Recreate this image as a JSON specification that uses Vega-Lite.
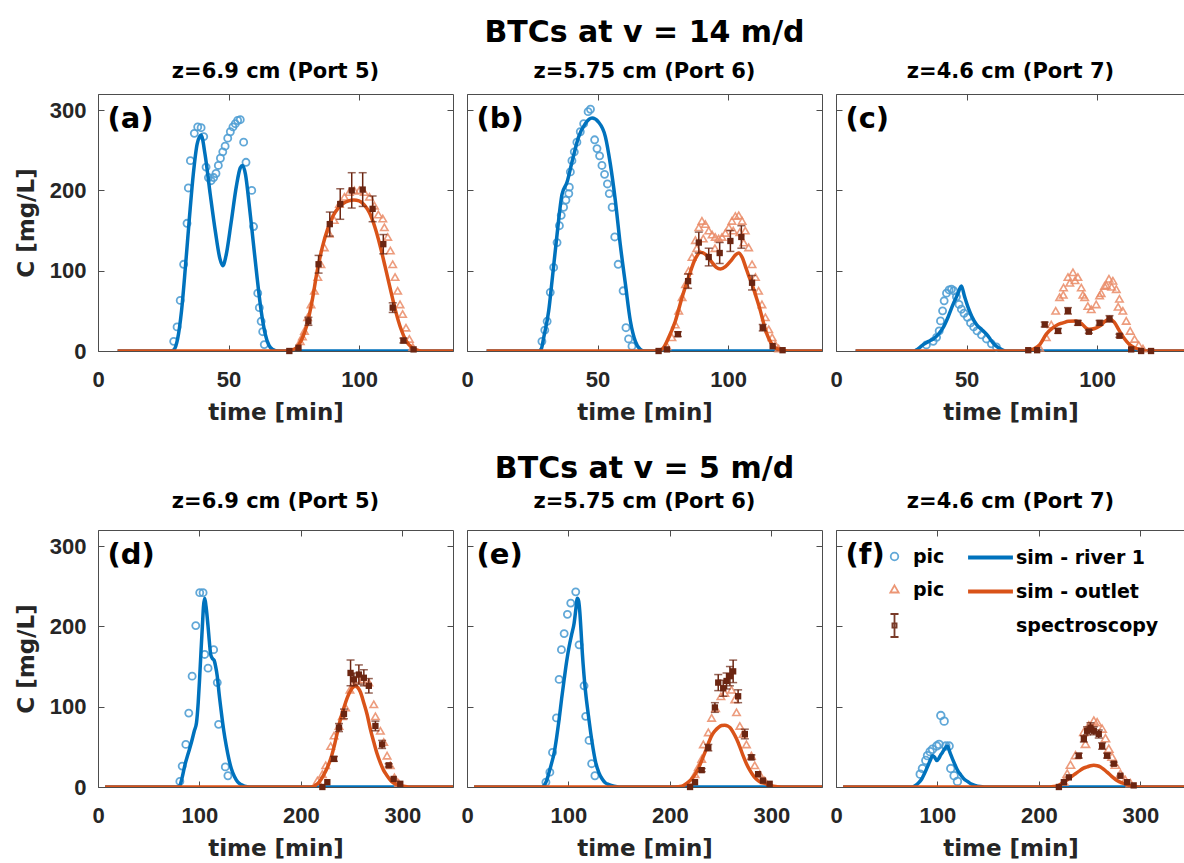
{
"$schema":"https://vega.github.io/schema/vega-lite/v6.json",
"padding":{"left":15,"top":17,"right":0,"bottom":0},
"background":"white",
"datasets":{
"d":[
{"p":"a","k":"sim_r","t":7.5,"C":0},{"p":"a","k":"sim_r","t":28,"C":0},{"p":"a","k":"sim_r","t":29.2,"C":2},{"p":"a","k":"sim_r","t":30.5,"C":15},{"p":"a","k":"sim_r","t":32,"C":50},{"p":"a","k":"sim_r","t":33.5,"C":105},{"p":"a","k":"sim_r","t":35,"C":165},{"p":"a","k":"sim_r","t":36.5,"C":220},{"p":"a","k":"sim_r","t":38,"C":258},{"p":"a","k":"sim_r","t":39.5,"C":269},{"p":"a","k":"sim_r","t":41,"C":245},{"p":"a","k":"sim_r","t":43,"C":195},{"p":"a","k":"sim_r","t":45,"C":148},{"p":"a","k":"sim_r","t":46.7,"C":115},{"p":"a","k":"sim_r","t":47.8,"C":106},{"p":"a","k":"sim_r","t":49,"C":118},{"p":"a","k":"sim_r","t":51,"C":160},{"p":"a","k":"sim_r","t":53,"C":205},{"p":"a","k":"sim_r","t":54.5,"C":228},{"p":"a","k":"sim_r","t":55.4,"C":231},{"p":"a","k":"sim_r","t":56.5,"C":220},{"p":"a","k":"sim_r","t":58,"C":180},{"p":"a","k":"sim_r","t":59.5,"C":135},{"p":"a","k":"sim_r","t":61,"C":90},{"p":"a","k":"sim_r","t":62.5,"C":50},{"p":"a","k":"sim_r","t":64,"C":22},{"p":"a","k":"sim_r","t":65.5,"C":7},{"p":"a","k":"sim_r","t":67,"C":2},{"p":"a","k":"sim_r","t":69,"C":0},{"p":"a","k":"sim_r","t":136,"C":0},
{"p":"a","k":"pic_c","t":29.0,"C":12},{"p":"a","k":"pic_c","t":30.3,"C":30},{"p":"a","k":"pic_c","t":31.5,"C":63},{"p":"a","k":"pic_c","t":32.8,"C":108},{"p":"a","k":"pic_c","t":34.1,"C":159},{"p":"a","k":"pic_c","t":34.6,"C":203},{"p":"a","k":"pic_c","t":35.4,"C":237},{"p":"a","k":"pic_c","t":36.9,"C":271},{"p":"a","k":"pic_c","t":38.2,"C":279},{"p":"a","k":"pic_c","t":39.5,"C":278},{"p":"a","k":"pic_c","t":40.5,"C":267},{"p":"a","k":"pic_c","t":41.4,"C":229},{"p":"a","k":"pic_c","t":42.3,"C":216},{"p":"a","k":"pic_c","t":43.3,"C":212},{"p":"a","k":"pic_c","t":44.3,"C":216},{"p":"a","k":"pic_c","t":45.2,"C":221},{"p":"a","k":"pic_c","t":46.1,"C":231},{"p":"a","k":"pic_c","t":46.9,"C":240},{"p":"a","k":"pic_c","t":47.8,"C":248},{"p":"a","k":"pic_c","t":48.7,"C":255},{"p":"a","k":"pic_c","t":49.7,"C":265},{"p":"a","k":"pic_c","t":50.7,"C":273},{"p":"a","k":"pic_c","t":51.7,"C":279},{"p":"a","k":"pic_c","t":52.6,"C":283},{"p":"a","k":"pic_c","t":53.5,"C":287},{"p":"a","k":"pic_c","t":54.5,"C":288},{"p":"a","k":"pic_c","t":55.8,"C":260},{"p":"a","k":"pic_c","t":56.7,"C":235},{"p":"a","k":"pic_c","t":58.9,"C":200},{"p":"a","k":"pic_c","t":59.6,"C":155},{"p":"a","k":"pic_c","t":61.2,"C":72},{"p":"a","k":"pic_c","t":61.8,"C":54},{"p":"a","k":"pic_c","t":62.5,"C":37},{"p":"a","k":"pic_c","t":63.1,"C":24},{"p":"a","k":"pic_c","t":63.7,"C":8},
{"p":"a","k":"sim_o","t":7.5,"C":0},{"p":"a","k":"sim_o","t":72,"C":0},{"p":"a","k":"sim_o","t":74,"C":1},{"p":"a","k":"sim_o","t":76,"C":4},{"p":"a","k":"sim_o","t":78,"C":14},{"p":"a","k":"sim_o","t":80,"C":32},{"p":"a","k":"sim_o","t":82,"C":62},{"p":"a","k":"sim_o","t":84,"C":100},{"p":"a","k":"sim_o","t":86,"C":130},{"p":"a","k":"sim_o","t":88,"C":152},{"p":"a","k":"sim_o","t":90,"C":168},{"p":"a","k":"sim_o","t":92,"C":178},{"p":"a","k":"sim_o","t":94,"C":184},{"p":"a","k":"sim_o","t":96,"C":187},{"p":"a","k":"sim_o","t":98,"C":188},{"p":"a","k":"sim_o","t":100,"C":187},{"p":"a","k":"sim_o","t":102,"C":182},{"p":"a","k":"sim_o","t":104,"C":172},{"p":"a","k":"sim_o","t":106,"C":155},{"p":"a","k":"sim_o","t":108,"C":132},{"p":"a","k":"sim_o","t":110,"C":105},{"p":"a","k":"sim_o","t":112,"C":77},{"p":"a","k":"sim_o","t":114,"C":50},{"p":"a","k":"sim_o","t":116,"C":28},{"p":"a","k":"sim_o","t":118,"C":13},{"p":"a","k":"sim_o","t":120,"C":5},{"p":"a","k":"sim_o","t":122,"C":1.5},{"p":"a","k":"sim_o","t":124,"C":0},{"p":"a","k":"sim_o","t":136,"C":0},
{"p":"a","k":"pic_t","t":77.5,"C":12},{"p":"a","k":"pic_t","t":78.3,"C":18},{"p":"a","k":"pic_t","t":79.1,"C":25},{"p":"a","k":"pic_t","t":80.3,"C":42},{"p":"a","k":"pic_t","t":81.6,"C":58},{"p":"a","k":"pic_t","t":82.9,"C":75},{"p":"a","k":"pic_t","t":84.2,"C":92},{"p":"a","k":"pic_t","t":85.4,"C":108},{"p":"a","k":"pic_t","t":86.7,"C":129},{"p":"a","k":"pic_t","t":88.6,"C":146},{"p":"a","k":"pic_t","t":90.5,"C":163},{"p":"a","k":"pic_t","t":92.5,"C":183},{"p":"a","k":"pic_t","t":94.4,"C":192},{"p":"a","k":"pic_t","t":96.3,"C":198},{"p":"a","k":"pic_t","t":98.2,"C":200},{"p":"a","k":"pic_t","t":100.1,"C":200},{"p":"a","k":"pic_t","t":102,"C":198},{"p":"a","k":"pic_t","t":104,"C":192},{"p":"a","k":"pic_t","t":105.9,"C":181},{"p":"a","k":"pic_t","t":107.4,"C":170},{"p":"a","k":"pic_t","t":109.1,"C":165},{"p":"a","k":"pic_t","t":109.7,"C":154},{"p":"a","k":"pic_t","t":111,"C":142},{"p":"a","k":"pic_t","t":112,"C":125},{"p":"a","k":"pic_t","t":112.9,"C":108},{"p":"a","k":"pic_t","t":113.8,"C":92},{"p":"a","k":"pic_t","t":114.8,"C":75},{"p":"a","k":"pic_t","t":115.7,"C":58},{"p":"a","k":"pic_t","t":116.7,"C":46},{"p":"a","k":"pic_t","t":118,"C":29},{"p":"a","k":"pic_t","t":119.3,"C":15},{"p":"a","k":"pic_t","t":120.6,"C":5},
{"p":"a","k":"spec","t":73.3,"C":0,"e":0},{"p":"a","k":"spec","t":76.8,"C":4,"e":0},{"p":"a","k":"spec","t":80.6,"C":37,"e":5},{"p":"a","k":"spec","t":84.5,"C":108,"e":11},{"p":"a","k":"spec","t":88.8,"C":158,"e":15},{"p":"a","k":"spec","t":92.8,"C":183,"e":19},{"p":"a","k":"spec","t":97.2,"C":200,"e":22},{"p":"a","k":"spec","t":101.4,"C":201,"e":21},{"p":"a","k":"spec","t":105.2,"C":177,"e":16},{"p":"a","k":"spec","t":109.3,"C":133,"e":12},{"p":"a","k":"spec","t":112.9,"C":54,"e":6},{"p":"a","k":"spec","t":117,"C":13,"e":3},{"p":"a","k":"spec","t":120.9,"C":2,"e":0},

{"p":"b","k":"sim_r","t":7.5,"C":0},{"p":"b","k":"sim_r","t":27.5,"C":0},{"p":"b","k":"sim_r","t":28.5,"C":3},{"p":"b","k":"sim_r","t":29.4,"C":17},{"p":"b","k":"sim_r","t":31.3,"C":50},{"p":"b","k":"sim_r","t":32.6,"C":88},{"p":"b","k":"sim_r","t":34.5,"C":145},{"p":"b","k":"sim_r","t":36.4,"C":195},{"p":"b","k":"sim_r","t":38.3,"C":210},{"p":"b","k":"sim_r","t":40.2,"C":235},{"p":"b","k":"sim_r","t":42.8,"C":267},{"p":"b","k":"sim_r","t":45.3,"C":283},{"p":"b","k":"sim_r","t":47.9,"C":290},{"p":"b","k":"sim_r","t":50.4,"C":285},{"p":"b","k":"sim_r","t":53,"C":267},{"p":"b","k":"sim_r","t":54.9,"C":233},{"p":"b","k":"sim_r","t":56.8,"C":188},{"p":"b","k":"sim_r","t":58.7,"C":133},{"p":"b","k":"sim_r","t":60.7,"C":83},{"p":"b","k":"sim_r","t":62.6,"C":37},{"p":"b","k":"sim_r","t":64.5,"C":12},{"p":"b","k":"sim_r","t":66.4,"C":2},{"p":"b","k":"sim_r","t":68,"C":0},{"p":"b","k":"sim_r","t":136,"C":0},
{"p":"b","k":"pic_c","t":28.7,"C":12},{"p":"b","k":"pic_c","t":29.8,"C":26},{"p":"b","k":"pic_c","t":30.7,"C":37},{"p":"b","k":"pic_c","t":31.9,"C":73},{"p":"b","k":"pic_c","t":33.2,"C":104},{"p":"b","k":"pic_c","t":34.5,"C":135},{"p":"b","k":"pic_c","t":35.4,"C":156},{"p":"b","k":"pic_c","t":36.1,"C":169},{"p":"b","k":"pic_c","t":37.0,"C":179},{"p":"b","k":"pic_c","t":37.9,"C":188},{"p":"b","k":"pic_c","t":39.0,"C":196},{"p":"b","k":"pic_c","t":39.2,"C":204},{"p":"b","k":"pic_c","t":39.6,"C":223},{"p":"b","k":"pic_c","t":40.2,"C":237},{"p":"b","k":"pic_c","t":41.1,"C":248},{"p":"b","k":"pic_c","t":42.1,"C":260},{"p":"b","k":"pic_c","t":43.4,"C":273},{"p":"b","k":"pic_c","t":44.7,"C":283},{"p":"b","k":"pic_c","t":46.4,"C":298},{"p":"b","k":"pic_c","t":47.3,"C":301},{"p":"b","k":"pic_c","t":48.9,"C":263},{"p":"b","k":"pic_c","t":49.8,"C":252},{"p":"b","k":"pic_c","t":50.8,"C":243},{"p":"b","k":"pic_c","t":51.7,"C":231},{"p":"b","k":"pic_c","t":52.7,"C":220},{"p":"b","k":"pic_c","t":53.8,"C":208},{"p":"b","k":"pic_c","t":54.5,"C":196},{"p":"b","k":"pic_c","t":55.6,"C":179},{"p":"b","k":"pic_c","t":56.6,"C":142},{"p":"b","k":"pic_c","t":57.9,"C":108},{"p":"b","k":"pic_c","t":59.8,"C":75},{"p":"b","k":"pic_c","t":60.9,"C":29},{"p":"b","k":"pic_c","t":61.9,"C":15},{"p":"b","k":"pic_c","t":63.2,"C":6},
{"p":"b","k":"sim_o","t":7.5,"C":0},{"p":"b","k":"sim_o","t":72,"C":0},{"p":"b","k":"sim_o","t":73.4,"C":0.5},{"p":"b","k":"sim_o","t":75,"C":3},{"p":"b","k":"sim_o","t":77.3,"C":17},{"p":"b","k":"sim_o","t":79.8,"C":37},{"p":"b","k":"sim_o","t":82.4,"C":67},{"p":"b","k":"sim_o","t":84.9,"C":92},{"p":"b","k":"sim_o","t":87.5,"C":115},{"p":"b","k":"sim_o","t":89.5,"C":123},{"p":"b","k":"sim_o","t":91.5,"C":120},{"p":"b","k":"sim_o","t":93.5,"C":112},{"p":"b","k":"sim_o","t":95.5,"C":104},{"p":"b","k":"sim_o","t":97.1,"C":102},{"p":"b","k":"sim_o","t":99,"C":105},{"p":"b","k":"sim_o","t":101,"C":112},{"p":"b","k":"sim_o","t":103,"C":120},{"p":"b","k":"sim_o","t":104.1,"C":122},{"p":"b","k":"sim_o","t":105.5,"C":116},{"p":"b","k":"sim_o","t":106.6,"C":106},{"p":"b","k":"sim_o","t":108,"C":93},{"p":"b","k":"sim_o","t":109.2,"C":83},{"p":"b","k":"sim_o","t":110.8,"C":67},{"p":"b","k":"sim_o","t":112.4,"C":50},{"p":"b","k":"sim_o","t":113.6,"C":35},{"p":"b","k":"sim_o","t":114.9,"C":21},{"p":"b","k":"sim_o","t":116.5,"C":10},{"p":"b","k":"sim_o","t":118.1,"C":4},{"p":"b","k":"sim_o","t":120.7,"C":1},{"p":"b","k":"sim_o","t":123,"C":0},{"p":"b","k":"sim_o","t":136,"C":0},
{"p":"b","k":"pic_t","t":76.6,"C":6},{"p":"b","k":"pic_t","t":78.5,"C":17},{"p":"b","k":"pic_t","t":79.8,"C":33},{"p":"b","k":"pic_t","t":81.1,"C":50},{"p":"b","k":"pic_t","t":82.4,"C":67},{"p":"b","k":"pic_t","t":83.7,"C":83},{"p":"b","k":"pic_t","t":84.9,"C":100},{"p":"b","k":"pic_t","t":86.2,"C":117},{"p":"b","k":"pic_t","t":87.5,"C":138},{"p":"b","k":"pic_t","t":88.8,"C":154},{"p":"b","k":"pic_t","t":90,"C":162},{"p":"b","k":"pic_t","t":91.3,"C":158},{"p":"b","k":"pic_t","t":92.6,"C":150},{"p":"b","k":"pic_t","t":93.9,"C":145},{"p":"b","k":"pic_t","t":95.1,"C":142},{"p":"b","k":"pic_t","t":96.4,"C":140},{"p":"b","k":"pic_t","t":97.7,"C":142},{"p":"b","k":"pic_t","t":99,"C":147},{"p":"b","k":"pic_t","t":100.3,"C":154},{"p":"b","k":"pic_t","t":101.5,"C":162},{"p":"b","k":"pic_t","t":102.8,"C":168},{"p":"b","k":"pic_t","t":104.1,"C":169},{"p":"b","k":"pic_t","t":105.4,"C":162},{"p":"b","k":"pic_t","t":106.6,"C":150},{"p":"b","k":"pic_t","t":107.9,"C":129},{"p":"b","k":"pic_t","t":109.2,"C":108},{"p":"b","k":"pic_t","t":110.5,"C":92},{"p":"b","k":"pic_t","t":111.7,"C":75},{"p":"b","k":"pic_t","t":113,"C":58},{"p":"b","k":"pic_t","t":114.3,"C":42},{"p":"b","k":"pic_t","t":115.6,"C":27},{"p":"b","k":"pic_t","t":116.9,"C":17},{"p":"b","k":"pic_t","t":118.1,"C":8},{"p":"b","k":"pic_t","t":119.4,"C":3},{"p":"b","k":"pic_t","t":88,"C":128},{"p":"b","k":"pic_t","t":90.5,"C":140},{"p":"b","k":"pic_t","t":95,"C":128},{"p":"b","k":"pic_t","t":102,"C":150},{"p":"b","k":"pic_t","t":104.5,"C":148},{"p":"b","k":"pic_t","t":106,"C":135},
{"p":"b","k":"spec","t":73.4,"C":0,"e":0},{"p":"b","k":"spec","t":76.6,"C":2,"e":0},{"p":"b","k":"spec","t":80.8,"C":21,"e":3},{"p":"b","k":"spec","t":84.7,"C":87,"e":9},{"p":"b","k":"spec","t":88.8,"C":135,"e":13},{"p":"b","k":"spec","t":92.6,"C":117,"e":11},{"p":"b","k":"spec","t":96.8,"C":122,"e":13},{"p":"b","k":"spec","t":100.9,"C":137,"e":13},{"p":"b","k":"spec","t":105.1,"C":142,"e":14},{"p":"b","k":"spec","t":109.2,"C":85,"e":9},{"p":"b","k":"spec","t":113.3,"C":29,"e":4},{"p":"b","k":"spec","t":117.1,"C":6,"e":0},{"p":"b","k":"spec","t":120.9,"C":1,"e":0},

{"p":"c","k":"sim_r","t":7.5,"C":0},{"p":"c","k":"sim_r","t":30,"C":0},{"p":"c","k":"sim_r","t":31.5,"C":3},{"p":"c","k":"sim_r","t":33.4,"C":8},{"p":"c","k":"sim_r","t":35.5,"C":12},{"p":"c","k":"sim_r","t":37.2,"C":15},{"p":"c","k":"sim_r","t":39,"C":20},{"p":"c","k":"sim_r","t":41,"C":29},{"p":"c","k":"sim_r","t":43,"C":43},{"p":"c","k":"sim_r","t":44.8,"C":58},{"p":"c","k":"sim_r","t":46.5,"C":70},{"p":"c","k":"sim_r","t":48,"C":81},{"p":"c","k":"sim_r","t":49.2,"C":68},{"p":"c","k":"sim_r","t":50.6,"C":54},{"p":"c","k":"sim_r","t":52,"C":43},{"p":"c","k":"sim_r","t":53.8,"C":33},{"p":"c","k":"sim_r","t":55.7,"C":27},{"p":"c","k":"sim_r","t":57.6,"C":21},{"p":"c","k":"sim_r","t":59,"C":15},{"p":"c","k":"sim_r","t":60.1,"C":10},{"p":"c","k":"sim_r","t":61.7,"C":5},{"p":"c","k":"sim_r","t":63.3,"C":2},{"p":"c","k":"sim_r","t":65,"C":0},{"p":"c","k":"sim_r","t":133.6,"C":0},
{"p":"c","k":"pic_c","t":34.6,"C":7.5},{"p":"c","k":"pic_c","t":37.2,"C":12},{"p":"c","k":"pic_c","t":38.5,"C":17},{"p":"c","k":"pic_c","t":39.5,"C":25},{"p":"c","k":"pic_c","t":40,"C":37.5},{"p":"c","k":"pic_c","t":40.8,"C":50},{"p":"c","k":"pic_c","t":41.4,"C":62.5},{"p":"c","k":"pic_c","t":42.3,"C":72},{"p":"c","k":"pic_c","t":43.3,"C":76},{"p":"c","k":"pic_c","t":44.2,"C":77},{"p":"c","k":"pic_c","t":45.1,"C":75},{"p":"c","k":"pic_c","t":46.1,"C":67.5},{"p":"c","k":"pic_c","t":47.1,"C":58},{"p":"c","k":"pic_c","t":48,"C":52},{"p":"c","k":"pic_c","t":49,"C":47},{"p":"c","k":"pic_c","t":50.3,"C":42},{"p":"c","k":"pic_c","t":51.5,"C":35},{"p":"c","k":"pic_c","t":52.7,"C":30},{"p":"c","k":"pic_c","t":54,"C":25},{"p":"c","k":"pic_c","t":55.7,"C":20},{"p":"c","k":"pic_c","t":57.6,"C":15},{"p":"c","k":"pic_c","t":59.5,"C":9},{"p":"c","k":"pic_c","t":61.4,"C":5},
{"p":"c","k":"sim_o","t":7.5,"C":0},{"p":"c","k":"sim_o","t":73,"C":0},{"p":"c","k":"sim_o","t":74.1,"C":0.5},{"p":"c","k":"sim_o","t":76,"C":3},{"p":"c","k":"sim_o","t":78,"C":8},{"p":"c","k":"sim_o","t":80.5,"C":21},{"p":"c","k":"sim_o","t":83.1,"C":29},{"p":"c","k":"sim_o","t":85,"C":33},{"p":"c","k":"sim_o","t":86.9,"C":35},{"p":"c","k":"sim_o","t":89,"C":37},{"p":"c","k":"sim_o","t":92,"C":37.5},{"p":"c","k":"sim_o","t":94,"C":34},{"p":"c","k":"sim_o","t":96,"C":28},{"p":"c","k":"sim_o","t":97.1,"C":27},{"p":"c","k":"sim_o","t":99,"C":28},{"p":"c","k":"sim_o","t":100.9,"C":31},{"p":"c","k":"sim_o","t":103,"C":37},{"p":"c","k":"sim_o","t":104.7,"C":40},{"p":"c","k":"sim_o","t":106.5,"C":36},{"p":"c","k":"sim_o","t":108.5,"C":25},{"p":"c","k":"sim_o","t":110.5,"C":15},{"p":"c","k":"sim_o","t":112.4,"C":8},{"p":"c","k":"sim_o","t":114.3,"C":4},{"p":"c","k":"sim_o","t":116.2,"C":2},{"p":"c","k":"sim_o","t":118,"C":0},{"p":"c","k":"sim_o","t":133.6,"C":0},
{"p":"c","k":"pic_t","t":78,"C":4},{"p":"c","k":"pic_t","t":80.5,"C":17},{"p":"c","k":"pic_t","t":82.4,"C":33},{"p":"c","k":"pic_t","t":84.1,"C":50},{"p":"c","k":"pic_t","t":85.6,"C":67},{"p":"c","k":"pic_t","t":87.1,"C":79},{"p":"c","k":"pic_t","t":88.8,"C":92},{"p":"c","k":"pic_t","t":90.7,"C":98},{"p":"c","k":"pic_t","t":92.6,"C":92},{"p":"c","k":"pic_t","t":93.9,"C":79},{"p":"c","k":"pic_t","t":95.2,"C":67},{"p":"c","k":"pic_t","t":96.4,"C":56},{"p":"c","k":"pic_t","t":97.7,"C":52},{"p":"c","k":"pic_t","t":99.6,"C":58},{"p":"c","k":"pic_t","t":100.9,"C":69},{"p":"c","k":"pic_t","t":102.8,"C":81},{"p":"c","k":"pic_t","t":104.5,"C":90},{"p":"c","k":"pic_t","t":106,"C":87.5},{"p":"c","k":"pic_t","t":107.3,"C":77},{"p":"c","k":"pic_t","t":108.5,"C":65},{"p":"c","k":"pic_t","t":109.8,"C":50},{"p":"c","k":"pic_t","t":111.1,"C":37.5},{"p":"c","k":"pic_t","t":112.6,"C":25},{"p":"c","k":"pic_t","t":114.3,"C":15},{"p":"c","k":"pic_t","t":115.9,"C":7.5},{"p":"c","k":"pic_t","t":117.5,"C":3},{"p":"c","k":"pic_t","t":89.5,"C":85},{"p":"c","k":"pic_t","t":91.5,"C":88},{"p":"c","k":"pic_t","t":94.5,"C":70},{"p":"c","k":"pic_t","t":101.5,"C":72},{"p":"c","k":"pic_t","t":103.5,"C":82},{"p":"c","k":"pic_t","t":105.5,"C":80},{"p":"c","k":"pic_t","t":87,"C":70},{"p":"c","k":"pic_t","t":108,"C":55},
{"p":"c","k":"spec","t":73.6,"C":1,"e":0},{"p":"c","k":"spec","t":77,"C":1,"e":0},{"p":"c","k":"spec","t":79.9,"C":33,"e":3},{"p":"c","k":"spec","t":85,"C":25,"e":3},{"p":"c","k":"spec","t":88.8,"C":50,"e":4},{"p":"c","k":"spec","t":92.6,"C":35,"e":3},{"p":"c","k":"spec","t":96.8,"C":24,"e":2},{"p":"c","k":"spec","t":100.9,"C":35,"e":3},{"p":"c","k":"spec","t":104.7,"C":40,"e":4},{"p":"c","k":"spec","t":108.5,"C":19,"e":2},{"p":"c","k":"spec","t":113,"C":2,"e":0},{"p":"c","k":"spec","t":116.8,"C":0,"e":0},{"p":"c","k":"spec","t":120.6,"C":0,"e":0},

{"p":"d","k":"sim_r","t":7,"C":0},{"p":"d","k":"sim_r","t":78,"C":0},{"p":"d","k":"sim_r","t":80.7,"C":2},{"p":"d","k":"sim_r","t":83,"C":12},{"p":"d","k":"sim_r","t":85.6,"C":27},{"p":"d","k":"sim_r","t":89,"C":42},{"p":"d","k":"sim_r","t":92.2,"C":56},{"p":"d","k":"sim_r","t":95,"C":70},{"p":"d","k":"sim_r","t":97.1,"C":80},{"p":"d","k":"sim_r","t":98.8,"C":105},{"p":"d","k":"sim_r","t":100.3,"C":138},{"p":"d","k":"sim_r","t":101.6,"C":170},{"p":"d","k":"sim_r","t":102.9,"C":200},{"p":"d","k":"sim_r","t":104,"C":225},{"p":"d","k":"sim_r","t":105.2,"C":235},{"p":"d","k":"sim_r","t":106.5,"C":225},{"p":"d","k":"sim_r","t":108.5,"C":200},{"p":"d","k":"sim_r","t":110,"C":178},{"p":"d","k":"sim_r","t":111.1,"C":165},{"p":"d","k":"sim_r","t":112.8,"C":160},{"p":"d","k":"sim_r","t":114.4,"C":158},{"p":"d","k":"sim_r","t":116,"C":150},{"p":"d","k":"sim_r","t":117.6,"C":138},{"p":"d","k":"sim_r","t":119.5,"C":115},{"p":"d","k":"sim_r","t":121.6,"C":93},{"p":"d","k":"sim_r","t":124,"C":70},{"p":"d","k":"sim_r","t":126.5,"C":51},{"p":"d","k":"sim_r","t":129,"C":35},{"p":"d","k":"sim_r","t":131.4,"C":23},{"p":"d","k":"sim_r","t":134.5,"C":13},{"p":"d","k":"sim_r","t":137.9,"C":6},{"p":"d","k":"sim_r","t":141,"C":3},{"p":"d","k":"sim_r","t":144.4,"C":1},{"p":"d","k":"sim_r","t":150,"C":0},{"p":"d","k":"sim_r","t":350,"C":0},
{"p":"d","k":"pic_c","t":80.7,"C":7},{"p":"d","k":"pic_c","t":83,"C":26},{"p":"d","k":"pic_c","t":86.6,"C":53},{"p":"d","k":"pic_c","t":89.5,"C":92},{"p":"d","k":"pic_c","t":92.8,"C":138},{"p":"d","k":"pic_c","t":96.4,"C":201},{"p":"d","k":"pic_c","t":100.3,"C":242},{"p":"d","k":"pic_c","t":103.6,"C":242},{"p":"d","k":"pic_c","t":105.2,"C":165},{"p":"d","k":"pic_c","t":108.5,"C":148},{"p":"d","k":"pic_c","t":114,"C":171},{"p":"d","k":"pic_c","t":117.6,"C":130},{"p":"d","k":"pic_c","t":118.9,"C":78},{"p":"d","k":"pic_c","t":125.5,"C":25},{"p":"d","k":"pic_c","t":128.1,"C":14},
{"p":"d","k":"sim_o","t":7,"C":0},{"p":"d","k":"sim_o","t":210,"C":0},{"p":"d","k":"sim_o","t":213,"C":1},{"p":"d","k":"sim_o","t":218,"C":6},{"p":"d","k":"sim_o","t":222.9,"C":16},{"p":"d","k":"sim_o","t":226,"C":24},{"p":"d","k":"sim_o","t":229.4,"C":35},{"p":"d","k":"sim_o","t":232.7,"C":50},{"p":"d","k":"sim_o","t":236,"C":68},{"p":"d","k":"sim_o","t":239,"C":84},{"p":"d","k":"sim_o","t":242.5,"C":99},{"p":"d","k":"sim_o","t":246,"C":112},{"p":"d","k":"sim_o","t":249,"C":120},{"p":"d","k":"sim_o","t":252,"C":125},{"p":"d","k":"sim_o","t":254,"C":126},{"p":"d","k":"sim_o","t":256,"C":124},{"p":"d","k":"sim_o","t":258.8,"C":118},{"p":"d","k":"sim_o","t":262,"C":105},{"p":"d","k":"sim_o","t":265.4,"C":90},{"p":"d","k":"sim_o","t":268.5,"C":72},{"p":"d","k":"sim_o","t":271.9,"C":56},{"p":"d","k":"sim_o","t":275,"C":42},{"p":"d","k":"sim_o","t":278.4,"C":30},{"p":"d","k":"sim_o","t":281.5,"C":21},{"p":"d","k":"sim_o","t":285,"C":14},{"p":"d","k":"sim_o","t":288,"C":9},{"p":"d","k":"sim_o","t":291.5,"C":5},{"p":"d","k":"sim_o","t":296,"C":2.5},{"p":"d","k":"sim_o","t":301.3,"C":1},{"p":"d","k":"sim_o","t":306,"C":0},{"p":"d","k":"sim_o","t":350,"C":0},
{"p":"d","k":"pic_t","t":216.3,"C":8},{"p":"d","k":"pic_t","t":221.2,"C":16},{"p":"d","k":"pic_t","t":224.5,"C":27},{"p":"d","k":"pic_t","t":229.4,"C":51},{"p":"d","k":"pic_t","t":232.7,"C":64},{"p":"d","k":"pic_t","t":237.6,"C":76},{"p":"d","k":"pic_t","t":240.8,"C":88},{"p":"d","k":"pic_t","t":244.1,"C":99},{"p":"d","k":"pic_t","t":248.4,"C":121},{"p":"d","k":"pic_t","t":252.3,"C":128},{"p":"d","k":"pic_t","t":255.6,"C":134},{"p":"d","k":"pic_t","t":260.5,"C":134},{"p":"d","k":"pic_t","t":267,"C":130},{"p":"d","k":"pic_t","t":271.9,"C":103},{"p":"d","k":"pic_t","t":273.5,"C":88},{"p":"d","k":"pic_t","t":278.4,"C":70},{"p":"d","k":"pic_t","t":281.7,"C":56},{"p":"d","k":"pic_t","t":285,"C":39},{"p":"d","k":"pic_t","t":288.2,"C":27},{"p":"d","k":"pic_t","t":292.2,"C":12},{"p":"d","k":"pic_t","t":296.4,"C":5},
{"p":"d","k":"spec","t":221.2,"C":0,"e":0},{"p":"d","k":"spec","t":226.1,"C":6,"e":0},{"p":"d","k":"spec","t":232.7,"C":35,"e":3},{"p":"d","k":"spec","t":237.6,"C":74,"e":5},{"p":"d","k":"spec","t":242.5,"C":91,"e":6},{"p":"d","k":"spec","t":249,"C":142,"e":16},{"p":"d","k":"spec","t":252.3,"C":134,"e":8},{"p":"d","k":"spec","t":257.2,"C":140,"e":12},{"p":"d","k":"spec","t":262.1,"C":136,"e":10},{"p":"d","k":"spec","t":267,"C":126,"e":9},{"p":"d","k":"spec","t":273.5,"C":76,"e":6},{"p":"d","k":"spec","t":280.1,"C":53,"e":5},{"p":"d","k":"spec","t":286.6,"C":27,"e":2},{"p":"d","k":"spec","t":291.5,"C":10,"e":0},{"p":"d","k":"spec","t":298,"C":4,"e":0},

{"p":"e","k":"sim_r","t":7,"C":0},{"p":"e","k":"sim_r","t":74,"C":0},{"p":"e","k":"sim_r","t":76.1,"C":2},{"p":"e","k":"sim_r","t":78.5,"C":8},{"p":"e","k":"sim_r","t":81,"C":18.5},{"p":"e","k":"sim_r","t":83.5,"C":30},{"p":"e","k":"sim_r","t":86,"C":43},{"p":"e","k":"sim_r","t":88.4,"C":62},{"p":"e","k":"sim_r","t":90.8,"C":84},{"p":"e","k":"sim_r","t":93.3,"C":110},{"p":"e","k":"sim_r","t":95.8,"C":134},{"p":"e","k":"sim_r","t":98.2,"C":156},{"p":"e","k":"sim_r","t":100.7,"C":175},{"p":"e","k":"sim_r","t":103.2,"C":190},{"p":"e","k":"sim_r","t":105.6,"C":204},{"p":"e","k":"sim_r","t":107.2,"C":220},{"p":"e","k":"sim_r","t":108.8,"C":235},{"p":"e","k":"sim_r","t":110,"C":232},{"p":"e","k":"sim_r","t":111.1,"C":220},{"p":"e","k":"sim_r","t":112.4,"C":195},{"p":"e","k":"sim_r","t":113.7,"C":167},{"p":"e","k":"sim_r","t":115.3,"C":140},{"p":"e","k":"sim_r","t":117,"C":117},{"p":"e","k":"sim_r","t":119.4,"C":92},{"p":"e","k":"sim_r","t":121.9,"C":68},{"p":"e","k":"sim_r","t":124.3,"C":48},{"p":"e","k":"sim_r","t":126.8,"C":31},{"p":"e","k":"sim_r","t":130,"C":18},{"p":"e","k":"sim_r","t":133.3,"C":10},{"p":"e","k":"sim_r","t":136.6,"C":5},{"p":"e","k":"sim_r","t":139.9,"C":3},{"p":"e","k":"sim_r","t":145,"C":1},{"p":"e","k":"sim_r","t":150,"C":0},{"p":"e","k":"sim_r","t":350,"C":0},
{"p":"e","k":"pic_c","t":77.8,"C":6},{"p":"e","k":"pic_c","t":81.7,"C":18.5},{"p":"e","k":"pic_c","t":84.3,"C":43},{"p":"e","k":"pic_c","t":88.2,"C":86},{"p":"e","k":"pic_c","t":90.8,"C":134},{"p":"e","k":"pic_c","t":93.1,"C":171},{"p":"e","k":"pic_c","t":95.8,"C":191},{"p":"e","k":"pic_c","t":99,"C":215},{"p":"e","k":"pic_c","t":102.3,"C":229},{"p":"e","k":"pic_c","t":107.2,"C":243},{"p":"e","k":"pic_c","t":110.5,"C":177},{"p":"e","k":"pic_c","t":115.4,"C":126},{"p":"e","k":"pic_c","t":117,"C":88},{"p":"e","k":"pic_c","t":120.3,"C":58},{"p":"e","k":"pic_c","t":122.9,"C":29},{"p":"e","k":"pic_c","t":126.1,"C":14},
{"p":"e","k":"sim_o","t":7,"C":0},{"p":"e","k":"sim_o","t":205,"C":0},{"p":"e","k":"sim_o","t":211.8,"C":1},{"p":"e","k":"sim_o","t":216,"C":4},{"p":"e","k":"sim_o","t":221.6,"C":10},{"p":"e","k":"sim_o","t":225,"C":16},{"p":"e","k":"sim_o","t":228.1,"C":23},{"p":"e","k":"sim_o","t":231.4,"C":33},{"p":"e","k":"sim_o","t":234.6,"C":43},{"p":"e","k":"sim_o","t":237.9,"C":54},{"p":"e","k":"sim_o","t":241.2,"C":64},{"p":"e","k":"sim_o","t":244.5,"C":70},{"p":"e","k":"sim_o","t":247.7,"C":74},{"p":"e","k":"sim_o","t":251,"C":76.5},{"p":"e","k":"sim_o","t":254.2,"C":77},{"p":"e","k":"sim_o","t":257,"C":76},{"p":"e","k":"sim_o","t":259.2,"C":74},{"p":"e","k":"sim_o","t":262.4,"C":68},{"p":"e","k":"sim_o","t":265.7,"C":60},{"p":"e","k":"sim_o","t":269,"C":50},{"p":"e","k":"sim_o","t":272.2,"C":39},{"p":"e","k":"sim_o","t":275.5,"C":29},{"p":"e","k":"sim_o","t":278.8,"C":21},{"p":"e","k":"sim_o","t":283,"C":13},{"p":"e","k":"sim_o","t":287,"C":8},{"p":"e","k":"sim_o","t":292,"C":5},{"p":"e","k":"sim_o","t":296.7,"C":3},{"p":"e","k":"sim_o","t":302,"C":1},{"p":"e","k":"sim_o","t":310,"C":0},{"p":"e","k":"sim_o","t":350,"C":0},
{"p":"e","k":"pic_t","t":221.6,"C":8},{"p":"e","k":"pic_t","t":224.8,"C":16},{"p":"e","k":"pic_t","t":228.1,"C":25},{"p":"e","k":"pic_t","t":231.4,"C":35},{"p":"e","k":"pic_t","t":233,"C":53},{"p":"e","k":"pic_t","t":237.9,"C":68},{"p":"e","k":"pic_t","t":241.2,"C":86},{"p":"e","k":"pic_t","t":245.1,"C":98},{"p":"e","k":"pic_t","t":250.3,"C":113},{"p":"e","k":"pic_t","t":254.2,"C":117},{"p":"e","k":"pic_t","t":260.8,"C":121},{"p":"e","k":"pic_t","t":264,"C":109},{"p":"e","k":"pic_t","t":265.7,"C":93},{"p":"e","k":"pic_t","t":269,"C":76},{"p":"e","k":"pic_t","t":272.2,"C":66},{"p":"e","k":"pic_t","t":275.5,"C":53},{"p":"e","k":"pic_t","t":280.4,"C":39},{"p":"e","k":"pic_t","t":283.7,"C":27},{"p":"e","k":"pic_t","t":288.6,"C":16},{"p":"e","k":"pic_t","t":293.5,"C":8},
{"p":"e","k":"spec","t":219.9,"C":0,"e":0},{"p":"e","k":"spec","t":224.8,"C":6,"e":0},{"p":"e","k":"spec","t":231.4,"C":21,"e":2},{"p":"e","k":"spec","t":237.9,"C":49,"e":4},{"p":"e","k":"spec","t":244.4,"C":99,"e":6},{"p":"e","k":"spec","t":247.7,"C":130,"e":10},{"p":"e","k":"spec","t":252.6,"C":123,"e":10},{"p":"e","k":"spec","t":255.9,"C":132,"e":10},{"p":"e","k":"spec","t":259.2,"C":138,"e":12},{"p":"e","k":"spec","t":262.4,"C":144,"e":14},{"p":"e","k":"spec","t":267.3,"C":113,"e":8},{"p":"e","k":"spec","t":273.9,"C":66,"e":6},{"p":"e","k":"spec","t":280.4,"C":37,"e":3},{"p":"e","k":"spec","t":287,"C":16,"e":0},{"p":"e","k":"spec","t":291.8,"C":8,"e":0},{"p":"e","k":"spec","t":298.4,"C":4,"e":0},

{"p":"f","k":"sim_r","t":7,"C":0},{"p":"f","k":"sim_r","t":75,"C":0},{"p":"f","k":"sim_r","t":77,"C":1},{"p":"f","k":"sim_r","t":79.5,"C":3},{"p":"f","k":"sim_r","t":82,"C":6},{"p":"f","k":"sim_r","t":84.5,"C":10},{"p":"f","k":"sim_r","t":86.9,"C":16},{"p":"f","k":"sim_r","t":89.4,"C":23},{"p":"f","k":"sim_r","t":91.8,"C":30},{"p":"f","k":"sim_r","t":93.5,"C":35},{"p":"f","k":"sim_r","t":95.1,"C":39},{"p":"f","k":"sim_r","t":97.2,"C":37},{"p":"f","k":"sim_r","t":99.3,"C":33},{"p":"f","k":"sim_r","t":101.5,"C":36},{"p":"f","k":"sim_r","t":103.2,"C":40},{"p":"f","k":"sim_r","t":104.9,"C":43},{"p":"f","k":"sim_r","t":107.4,"C":48},{"p":"f","k":"sim_r","t":109.8,"C":51},{"p":"f","k":"sim_r","t":112.3,"C":43},{"p":"f","k":"sim_r","t":114.8,"C":35},{"p":"f","k":"sim_r","t":117.2,"C":28},{"p":"f","k":"sim_r","t":119.7,"C":21},{"p":"f","k":"sim_r","t":123,"C":15},{"p":"f","k":"sim_r","t":126.2,"C":10},{"p":"f","k":"sim_r","t":129.5,"C":7},{"p":"f","k":"sim_r","t":132.8,"C":4},{"p":"f","k":"sim_r","t":137,"C":2},{"p":"f","k":"sim_r","t":142,"C":0.5},{"p":"f","k":"sim_r","t":146,"C":0},{"p":"f","k":"sim_r","t":344,"C":0},
{"p":"f","k":"pic_c","t":83,"C":16},{"p":"f","k":"pic_c","t":85.2,"C":23},{"p":"f","k":"pic_c","t":88.5,"C":33},{"p":"f","k":"pic_c","t":90.2,"C":39},{"p":"f","k":"pic_c","t":92.8,"C":44},{"p":"f","k":"pic_c","t":95.1,"C":47},{"p":"f","k":"pic_c","t":99.3,"C":51},{"p":"f","k":"pic_c","t":101.6,"C":53},{"p":"f","k":"pic_c","t":103.3,"C":89},{"p":"f","k":"pic_c","t":106.6,"C":82},{"p":"f","k":"pic_c","t":108.2,"C":51},{"p":"f","k":"pic_c","t":111.5,"C":51},{"p":"f","k":"pic_c","t":113.1,"C":23},{"p":"f","k":"pic_c","t":116.4,"C":14},{"p":"f","k":"pic_c","t":119.7,"C":7},
{"p":"f","k":"sim_o","t":7,"C":0},{"p":"f","k":"sim_o","t":210,"C":0},{"p":"f","k":"sim_o","t":214.8,"C":0.5},{"p":"f","k":"sim_o","t":220,"C":2.5},{"p":"f","k":"sim_o","t":224.6,"C":6},{"p":"f","k":"sim_o","t":228,"C":9},{"p":"f","k":"sim_o","t":231.1,"C":12},{"p":"f","k":"sim_o","t":236,"C":16.5},{"p":"f","k":"sim_o","t":241,"C":21},{"p":"f","k":"sim_o","t":244,"C":23.5},{"p":"f","k":"sim_o","t":247.5,"C":25},{"p":"f","k":"sim_o","t":251,"C":26.5},{"p":"f","k":"sim_o","t":254.1,"C":27},{"p":"f","k":"sim_o","t":257.4,"C":26.5},{"p":"f","k":"sim_o","t":260.7,"C":25},{"p":"f","k":"sim_o","t":264,"C":22},{"p":"f","k":"sim_o","t":267.2,"C":18.5},{"p":"f","k":"sim_o","t":272,"C":13},{"p":"f","k":"sim_o","t":277,"C":8},{"p":"f","k":"sim_o","t":282,"C":5},{"p":"f","k":"sim_o","t":286.9,"C":3},{"p":"f","k":"sim_o","t":292,"C":1},{"p":"f","k":"sim_o","t":298,"C":0},{"p":"f","k":"sim_o","t":344,"C":0},
{"p":"f","k":"pic_t","t":224.6,"C":6},{"p":"f","k":"pic_t","t":227.9,"C":16},{"p":"f","k":"pic_t","t":231.1,"C":27},{"p":"f","k":"pic_t","t":236.1,"C":39},{"p":"f","k":"pic_t","t":244.3,"C":68},{"p":"f","k":"pic_t","t":245.9,"C":53},{"p":"f","k":"pic_t","t":249.2,"C":76},{"p":"f","k":"pic_t","t":254.1,"C":82},{"p":"f","k":"pic_t","t":257.4,"C":80},{"p":"f","k":"pic_t","t":262.3,"C":72},{"p":"f","k":"pic_t","t":265.6,"C":60},{"p":"f","k":"pic_t","t":268.9,"C":47},{"p":"f","k":"pic_t","t":272.1,"C":37},{"p":"f","k":"pic_t","t":275.4,"C":27},{"p":"f","k":"pic_t","t":280.3,"C":16},{"p":"f","k":"pic_t","t":285.2,"C":8},{"p":"f","k":"pic_t","t":290.2,"C":4},
{"p":"f","k":"spec","t":219.7,"C":0,"e":0},{"p":"f","k":"spec","t":224.6,"C":6,"e":0},{"p":"f","k":"spec","t":229.5,"C":12,"e":0},{"p":"f","k":"spec","t":239.3,"C":39,"e":3},{"p":"f","k":"spec","t":244.3,"C":60,"e":4},{"p":"f","k":"spec","t":247.5,"C":70,"e":5},{"p":"f","k":"spec","t":250.8,"C":74,"e":6},{"p":"f","k":"spec","t":254.1,"C":70,"e":5},{"p":"f","k":"spec","t":259,"C":66,"e":5},{"p":"f","k":"spec","t":262.3,"C":51,"e":4},{"p":"f","k":"spec","t":267.2,"C":39,"e":3},{"p":"f","k":"spec","t":273.8,"C":29,"e":2},{"p":"f","k":"spec","t":280.3,"C":14,"e":0},{"p":"f","k":"spec","t":286.9,"C":6,"e":0},{"p":"f","k":"spec","t":293.4,"C":2,"e":0}
]},
"data":{"name":"d"},
"spacing":29,
"resolve":{"scale":{"color":"independent","shape":"independent","stroke":"independent"},"legend":{"color":"independent","shape":"independent","stroke":"independent"}},
"vconcat":[
{"spacing":6,
 "hconcat":[
 {"width":355,"height":257,"title":{"text":"z=6.9 cm (Port 5)","offset":12},
  "resolve":{"axis":{"x":"independent","y":"independent"}},
  "layer":[
   {"transform":[{"filter":"datum.p=='a' && datum.k=='pic_c'"}],"mark":{"type":"point","shape":"circle","filled":false,"size":50,"strokeWidth":1.8,"color":"#509fd4","opacity":0.9},
    "encoding":{"x":{"field":"t","type":"quantitative","scale":{"domain":[0,136],"nice":false},"axis":{"values":[0,50,100],"title":"time [min]"}},"y":{"field":"C","type":"quantitative","scale":{"domain":[0,320],"nice":false},"axis":{"values":[0,100,200,300],"title":"C [mg/L]"}}}},
   {"transform":[{"filter":"datum.p=='a' && datum.k=='sim_r'"}],"mark":{"type":"line","color":"#0072bd","strokeWidth":3.5,"interpolate":"monotone","clip":true},
    "encoding":{"x":{"field":"t","type":"quantitative","axis":null},"y":{"field":"C","type":"quantitative","axis":null}}},
   {"transform":[{"filter":"datum.p=='a' && datum.k=='pic_t'"}],"mark":{"type":"point","shape":"triangle-up","filled":false,"size":55,"strokeWidth":1.6,"color":"#ea8b67","opacity":0.85},
    "encoding":{"x":{"field":"t","type":"quantitative","axis":null},"y":{"field":"C","type":"quantitative","axis":null}}},
   {"transform":[{"filter":"datum.p=='a' && datum.k=='sim_o'"}],"mark":{"type":"line","color":"#d95319","strokeWidth":3.5,"interpolate":"monotone","clip":true},
    "encoding":{"x":{"field":"t","type":"quantitative","axis":null},"y":{"field":"C","type":"quantitative","axis":null}}},
   {"transform":[{"filter":"datum.p=='a' && datum.k=='spec' && datum.e>0"}],"mark":{"type":"errorbar","ticks":{"size":8},"color":"#6b2511","thickness":1.5},
    "encoding":{"x":{"field":"t","type":"quantitative","axis":null},"y":{"field":"C","type":"quantitative","axis":null},"yError":{"field":"e"}}},
   {"transform":[{"filter":"datum.p=='a' && datum.k=='spec'"}],"mark":{"type":"point","shape":"square","filled":true,"size":40,"color":"#6b2511","opacity":1},
    "encoding":{"x":{"field":"t","type":"quantitative","axis":null},"y":{"field":"C","type":"quantitative","axis":null}}},
   {"data":{"values":[{}]},"mark":{"type":"text","text":"(a)","align":"left","baseline":"top","font":"DejaVu Sans","fontSize":29,"fontWeight":"bold","color":"black"},
    "encoding":{"x":{"datum":3.6,"type":"quantitative","axis":{"orient":"top","values":[0,50,100],"labels":false,"title":null}},"y":{"datum":306,"type":"quantitative","axis":{"orient":"right","values":[0,100,200,300],"labels":false,"title":null}}}}
  ]},
 {"width":355,"height":257,"title":{"text":"BTCs at v = 14 m/d","fontSize":30,"subtitle":"z=5.75 cm (Port 6)","subtitleFont":"DejaVu Sans","subtitleFontSize":21,"subtitleFontWeight":"bold","subtitleColor":"black","subtitlePadding":13,"offset":12},
  "resolve":{"axis":{"x":"independent","y":"independent"}},
  "layer":[
   {"transform":[{"filter":"datum.p=='b' && datum.k=='pic_c'"}],"mark":{"type":"point","shape":"circle","filled":false,"size":50,"strokeWidth":1.8,"color":"#509fd4","opacity":0.9},
    "encoding":{"x":{"field":"t","type":"quantitative","scale":{"domain":[0,136],"nice":false},"axis":{"values":[0,50,100],"title":"time [min]"}},"y":{"field":"C","type":"quantitative","scale":{"domain":[0,320],"nice":false},"axis":{"values":[0,100,200,300],"labels":false,"title":null}}}},
   {"transform":[{"filter":"datum.p=='b' && datum.k=='sim_r'"}],"mark":{"type":"line","color":"#0072bd","strokeWidth":3.5,"interpolate":"monotone","clip":true},
    "encoding":{"x":{"field":"t","type":"quantitative","axis":null},"y":{"field":"C","type":"quantitative","axis":null}}},
   {"transform":[{"filter":"datum.p=='b' && datum.k=='pic_t'"}],"mark":{"type":"point","shape":"triangle-up","filled":false,"size":55,"strokeWidth":1.6,"color":"#ea8b67","opacity":0.85},
    "encoding":{"x":{"field":"t","type":"quantitative","axis":null},"y":{"field":"C","type":"quantitative","axis":null}}},
   {"transform":[{"filter":"datum.p=='b' && datum.k=='sim_o'"}],"mark":{"type":"line","color":"#d95319","strokeWidth":3.5,"interpolate":"monotone","clip":true},
    "encoding":{"x":{"field":"t","type":"quantitative","axis":null},"y":{"field":"C","type":"quantitative","axis":null}}},
   {"transform":[{"filter":"datum.p=='b' && datum.k=='spec' && datum.e>0"}],"mark":{"type":"errorbar","ticks":{"size":8},"color":"#6b2511","thickness":1.5},
    "encoding":{"x":{"field":"t","type":"quantitative","axis":null},"y":{"field":"C","type":"quantitative","axis":null},"yError":{"field":"e"}}},
   {"transform":[{"filter":"datum.p=='b' && datum.k=='spec'"}],"mark":{"type":"point","shape":"square","filled":true,"size":40,"color":"#6b2511","opacity":1},
    "encoding":{"x":{"field":"t","type":"quantitative","axis":null},"y":{"field":"C","type":"quantitative","axis":null}}},
   {"data":{"values":[{}]},"mark":{"type":"text","text":"(b)","align":"left","baseline":"top","font":"DejaVu Sans","fontSize":29,"fontWeight":"bold","color":"black"},
    "encoding":{"x":{"datum":3.6,"type":"quantitative","axis":{"orient":"top","values":[0,50,100],"labels":false,"title":null}},"y":{"datum":306,"type":"quantitative","axis":{"orient":"right","values":[0,100,200,300],"labels":false,"title":null}}}}
  ]},
 {"width":349,"height":257,"title":{"text":"z=4.6 cm (Port 7)","offset":12},
  "resolve":{"axis":{"x":"independent","y":"independent"}},
  "layer":[
   {"transform":[{"filter":"datum.p=='c' && datum.k=='pic_c'"}],"mark":{"type":"point","shape":"circle","filled":false,"size":50,"strokeWidth":1.8,"color":"#509fd4","opacity":0.9},
    "encoding":{"x":{"field":"t","type":"quantitative","scale":{"domain":[0,133.6],"nice":false},"axis":{"values":[0,50,100],"title":"time [min]"}},"y":{"field":"C","type":"quantitative","scale":{"domain":[0,320],"nice":false},"axis":{"values":[0,100,200,300],"labels":false,"title":null}}}},
   {"transform":[{"filter":"datum.p=='c' && datum.k=='sim_r'"}],"mark":{"type":"line","color":"#0072bd","strokeWidth":3.5,"interpolate":"monotone","clip":true},
    "encoding":{"x":{"field":"t","type":"quantitative","axis":null},"y":{"field":"C","type":"quantitative","axis":null}}},
   {"transform":[{"filter":"datum.p=='c' && datum.k=='pic_t'"}],"mark":{"type":"point","shape":"triangle-up","filled":false,"size":55,"strokeWidth":1.6,"color":"#ea8b67","opacity":0.85},
    "encoding":{"x":{"field":"t","type":"quantitative","axis":null},"y":{"field":"C","type":"quantitative","axis":null}}},
   {"transform":[{"filter":"datum.p=='c' && datum.k=='sim_o'"}],"mark":{"type":"line","color":"#d95319","strokeWidth":3.5,"interpolate":"monotone","clip":true},
    "encoding":{"x":{"field":"t","type":"quantitative","axis":null},"y":{"field":"C","type":"quantitative","axis":null}}},
   {"transform":[{"filter":"datum.p=='c' && datum.k=='spec' && datum.e>0"}],"mark":{"type":"errorbar","ticks":{"size":8},"color":"#6b2511","thickness":1.5},
    "encoding":{"x":{"field":"t","type":"quantitative","axis":null},"y":{"field":"C","type":"quantitative","axis":null},"yError":{"field":"e"}}},
   {"transform":[{"filter":"datum.p=='c' && datum.k=='spec'"}],"mark":{"type":"point","shape":"square","filled":true,"size":40,"color":"#6b2511","opacity":1},
    "encoding":{"x":{"field":"t","type":"quantitative","axis":null},"y":{"field":"C","type":"quantitative","axis":null}}},
   {"data":{"values":[{}]},"mark":{"type":"text","text":"(c)","align":"left","baseline":"top","font":"DejaVu Sans","fontSize":29,"fontWeight":"bold","color":"black"},
    "encoding":{"x":{"datum":3.6,"type":"quantitative","axis":{"orient":"top","values":[0,50,100],"labels":false,"title":null}},"y":{"datum":306,"type":"quantitative","axis":null}}}
  ]}
 ]},
{"spacing":6,
 "resolve":{"scale":{"color":"independent","shape":"independent","stroke":"independent"},"legend":{"color":"independent","shape":"independent","stroke":"independent"}},
 "hconcat":[
 {"width":355,"height":257,"title":{"text":"z=6.9 cm (Port 5)","offset":18},
  "resolve":{"axis":{"x":"independent","y":"independent"}},
  "layer":[
   {"transform":[{"filter":"datum.p=='d' && datum.k=='pic_c'"}],"mark":{"type":"point","shape":"circle","filled":false,"size":50,"strokeWidth":1.8,"color":"#509fd4","opacity":0.9},
    "encoding":{"x":{"field":"t","type":"quantitative","scale":{"domain":[0,350],"nice":false},"axis":{"values":[0,100,200,300],"title":"time [min]"}},"y":{"field":"C","type":"quantitative","scale":{"domain":[0,320],"nice":false},"axis":{"values":[0,100,200,300],"title":"C [mg/L]"}}}},
   {"transform":[{"filter":"datum.p=='d' && datum.k=='sim_r'"}],"mark":{"type":"line","color":"#0072bd","strokeWidth":3.5,"interpolate":"monotone","clip":true},
    "encoding":{"x":{"field":"t","type":"quantitative","axis":null},"y":{"field":"C","type":"quantitative","axis":null}}},
   {"transform":[{"filter":"datum.p=='d' && datum.k=='pic_t'"}],"mark":{"type":"point","shape":"triangle-up","filled":false,"size":55,"strokeWidth":1.6,"color":"#ea8b67","opacity":0.85},
    "encoding":{"x":{"field":"t","type":"quantitative","axis":null},"y":{"field":"C","type":"quantitative","axis":null}}},
   {"transform":[{"filter":"datum.p=='d' && datum.k=='sim_o'"}],"mark":{"type":"line","color":"#d95319","strokeWidth":3.5,"interpolate":"monotone","clip":true},
    "encoding":{"x":{"field":"t","type":"quantitative","axis":null},"y":{"field":"C","type":"quantitative","axis":null}}},
   {"transform":[{"filter":"datum.p=='d' && datum.k=='spec' && datum.e>0"}],"mark":{"type":"errorbar","ticks":{"size":8},"color":"#6b2511","thickness":1.5},
    "encoding":{"x":{"field":"t","type":"quantitative","axis":null},"y":{"field":"C","type":"quantitative","axis":null},"yError":{"field":"e"}}},
   {"transform":[{"filter":"datum.p=='d' && datum.k=='spec'"}],"mark":{"type":"point","shape":"square","filled":true,"size":40,"color":"#6b2511","opacity":1},
    "encoding":{"x":{"field":"t","type":"quantitative","axis":null},"y":{"field":"C","type":"quantitative","axis":null}}},
   {"data":{"values":[{}]},"mark":{"type":"text","text":"(d)","align":"left","baseline":"top","font":"DejaVu Sans","fontSize":29,"fontWeight":"bold","color":"black"},
    "encoding":{"x":{"datum":9.4,"type":"quantitative","axis":{"orient":"top","values":[0,100,200,300],"labels":false,"title":null}},"y":{"datum":306,"type":"quantitative","axis":{"orient":"right","values":[0,100,200,300],"labels":false,"title":null}}}}
  ]},
 {"width":355,"height":257,"title":{"text":"BTCs at v = 5 m/d","fontSize":30,"subtitle":"z=5.75 cm (Port 6)","subtitleFont":"DejaVu Sans","subtitleFontSize":21,"subtitleFontWeight":"bold","subtitleColor":"black","subtitlePadding":7,"offset":18},
  "resolve":{"axis":{"x":"independent","y":"independent"}},
  "layer":[
   {"transform":[{"filter":"datum.p=='e' && datum.k=='pic_c'"}],"mark":{"type":"point","shape":"circle","filled":false,"size":50,"strokeWidth":1.8,"color":"#509fd4","opacity":0.9},
    "encoding":{"x":{"field":"t","type":"quantitative","scale":{"domain":[0,350],"nice":false},"axis":{"values":[0,100,200,300],"title":"time [min]"}},"y":{"field":"C","type":"quantitative","scale":{"domain":[0,320],"nice":false},"axis":{"values":[0,100,200,300],"labels":false,"title":null}}}},
   {"transform":[{"filter":"datum.p=='e' && datum.k=='sim_r'"}],"mark":{"type":"line","color":"#0072bd","strokeWidth":3.5,"interpolate":"monotone","clip":true},
    "encoding":{"x":{"field":"t","type":"quantitative","axis":null},"y":{"field":"C","type":"quantitative","axis":null}}},
   {"transform":[{"filter":"datum.p=='e' && datum.k=='pic_t'"}],"mark":{"type":"point","shape":"triangle-up","filled":false,"size":55,"strokeWidth":1.6,"color":"#ea8b67","opacity":0.85},
    "encoding":{"x":{"field":"t","type":"quantitative","axis":null},"y":{"field":"C","type":"quantitative","axis":null}}},
   {"transform":[{"filter":"datum.p=='e' && datum.k=='sim_o'"}],"mark":{"type":"line","color":"#d95319","strokeWidth":3.5,"interpolate":"monotone","clip":true},
    "encoding":{"x":{"field":"t","type":"quantitative","axis":null},"y":{"field":"C","type":"quantitative","axis":null}}},
   {"transform":[{"filter":"datum.p=='e' && datum.k=='spec' && datum.e>0"}],"mark":{"type":"errorbar","ticks":{"size":8},"color":"#6b2511","thickness":1.5},
    "encoding":{"x":{"field":"t","type":"quantitative","axis":null},"y":{"field":"C","type":"quantitative","axis":null},"yError":{"field":"e"}}},
   {"transform":[{"filter":"datum.p=='e' && datum.k=='spec'"}],"mark":{"type":"point","shape":"square","filled":true,"size":40,"color":"#6b2511","opacity":1},
    "encoding":{"x":{"field":"t","type":"quantitative","axis":null},"y":{"field":"C","type":"quantitative","axis":null}}},
   {"data":{"values":[{}]},"mark":{"type":"text","text":"(e)","align":"left","baseline":"top","font":"DejaVu Sans","fontSize":29,"fontWeight":"bold","color":"black"},
    "encoding":{"x":{"datum":9.4,"type":"quantitative","axis":{"orient":"top","values":[0,100,200,300],"labels":false,"title":null}},"y":{"datum":306,"type":"quantitative","axis":{"orient":"right","values":[0,100,200,300],"labels":false,"title":null}}}}
  ]},
 {"width":349,"height":257,"title":{"text":"z=4.6 cm (Port 7)","offset":18},
  "resolve":{"axis":{"x":"independent","y":"independent"}},
  "layer":[
   {"transform":[{"filter":"datum.p=='f' && datum.k=='pic_c'"}],"mark":{"type":"point","filled":false,"size":529,"strokeWidth":1.8,"opacity":0.9},
    "encoding":{"x":{"field":"t","type":"quantitative","scale":{"domain":[0,344],"nice":false},"axis":{"values":[0,100,200,300],"title":"time [min]"}},"y":{"field":"C","type":"quantitative","scale":{"domain":[0,320],"nice":false},"axis":{"values":[0,100,200,300],"labels":false,"title":null}},
     "color":{"field":"k","type":"nominal","scale":{"domain":["pic_c","pic_t","spec"],"range":["#509fd4","#ea8b67","#6b2511"]},"legend":{"title":null,"orient":"none","legendX":46,"legendY":14,"padding":0,"labelExpr":"datum.value == 'spec' ? '' : 'pic'","symbolSize":529,"symbolStrokeWidth":1.8,"labelFont":"DejaVu Sans","labelFontSize":19,"labelFontWeight":"bold","labelColor":"black","labelOffset":6,"rowPadding":10}},
     "shape":{"field":"k","type":"nominal","scale":{"domain":["pic_c","pic_t","spec"],"range":["M-0.33,0A0.33,0.33,0,1,0,0.33,0A0.33,0.33,0,1,0,-0.33,0Z","M0,-0.36L0.36,0.26L-0.36,0.26Z","M0,-1V1M-0.35,-1H0.35M-0.35,1H0.35M-0.18,-0.18H0.18V0.18H-0.18Z"]},"legend":{"title":null,"orient":"none","legendX":46,"legendY":14,"padding":0,"labelExpr":"datum.value == 'spec' ? '' : 'pic'","symbolSize":529,"symbolStrokeWidth":1.8,"labelFont":"DejaVu Sans","labelFontSize":19,"labelFontWeight":"bold","labelColor":"black","labelOffset":6,"rowPadding":10}}}},
   {"transform":[{"filter":"datum.p=='f' && datum.k=='sim_r'"}],"mark":{"type":"line","strokeWidth":3.5,"interpolate":"monotone","clip":true},
    "encoding":{"x":{"field":"t","type":"quantitative","axis":null},"y":{"field":"C","type":"quantitative","axis":null},
     "stroke":{"field":"k","type":"nominal","scale":{"domain":["sim_r","sim_o","spec_l"],"range":["#0072bd","#d95319","transparent"]},"legend":{"title":null,"orient":"none","legendX":141,"legendY":14,"padding":0,"labelExpr":"datum.value == 'sim_r' ? 'sim - river 1' : datum.value == 'sim_o' ? 'sim - outlet' : 'spectroscopy'","symbolType":"M-1.95,0H1.95","symbolSize":529,"symbolStrokeWidth":4,"labelFont":"DejaVu Sans","labelFontSize":19,"labelFontWeight":"bold","labelColor":"black","labelOffset":12,"rowPadding":10}}}},
   {"transform":[{"filter":"datum.p=='f' && datum.k=='pic_t'"}],"mark":{"type":"point","filled":false,"size":529,"strokeWidth":1.6,"opacity":0.85},
    "encoding":{"x":{"field":"t","type":"quantitative","axis":null},"y":{"field":"C","type":"quantitative","axis":null},
     "color":{"field":"k","type":"nominal"},"shape":{"field":"k","type":"nominal"}}},
   {"transform":[{"filter":"datum.p=='f' && datum.k=='sim_o'"}],"mark":{"type":"line","strokeWidth":3.5,"interpolate":"monotone","clip":true},
    "encoding":{"x":{"field":"t","type":"quantitative","axis":null},"y":{"field":"C","type":"quantitative","axis":null},"stroke":{"field":"k","type":"nominal"}}},
   {"transform":[{"filter":"datum.p=='f' && datum.k=='spec' && datum.e>0"}],"mark":{"type":"errorbar","ticks":{"size":8},"color":"#6b2511","thickness":1.5},
    "encoding":{"x":{"field":"t","type":"quantitative","axis":null},"y":{"field":"C","type":"quantitative","axis":null},"yError":{"field":"e"}}},
   {"transform":[{"filter":"datum.p=='f' && datum.k=='spec'"}],"mark":{"type":"point","shape":"square","filled":true,"size":40,"color":"#6b2511","opacity":1},
    "encoding":{"x":{"field":"t","type":"quantitative","axis":null},"y":{"field":"C","type":"quantitative","axis":null}}},
   {"data":{"values":[{}]},"mark":{"type":"text","text":"(f)","align":"left","baseline":"top","font":"DejaVu Sans","fontSize":29,"fontWeight":"bold","color":"black"},
    "encoding":{"x":{"datum":9.4,"type":"quantitative","axis":{"orient":"top","values":[0,100,200,300],"labels":false,"title":null}},"y":{"datum":306,"type":"quantitative","axis":null}}}
  ]}
 ]}
],
"config":{
 "view":{"stroke":null},
 "axis":{"grid":false,"domainColor":"#4d4d4d","domainWidth":1,"tickColor":"#4d4d4d","tickSize":-6,"tickWidth":1,"labelFont":"Liberation Sans","labelFontSize":22,"labelFontWeight":"bold","labelColor":"#262626","labelFlush":false,"labelOverlap":false,"titleFont":"DejaVu Sans","titleFontSize":23,"titleFontWeight":"bold","titleColor":"#262626","titlePadding":11},
 "axisX":{"labelPadding":24},
 "axisY":{"labelPadding":18},
 "title":{"font":"DejaVu Sans","fontWeight":"bold","fontSize":21,"color":"black"}
}
}
